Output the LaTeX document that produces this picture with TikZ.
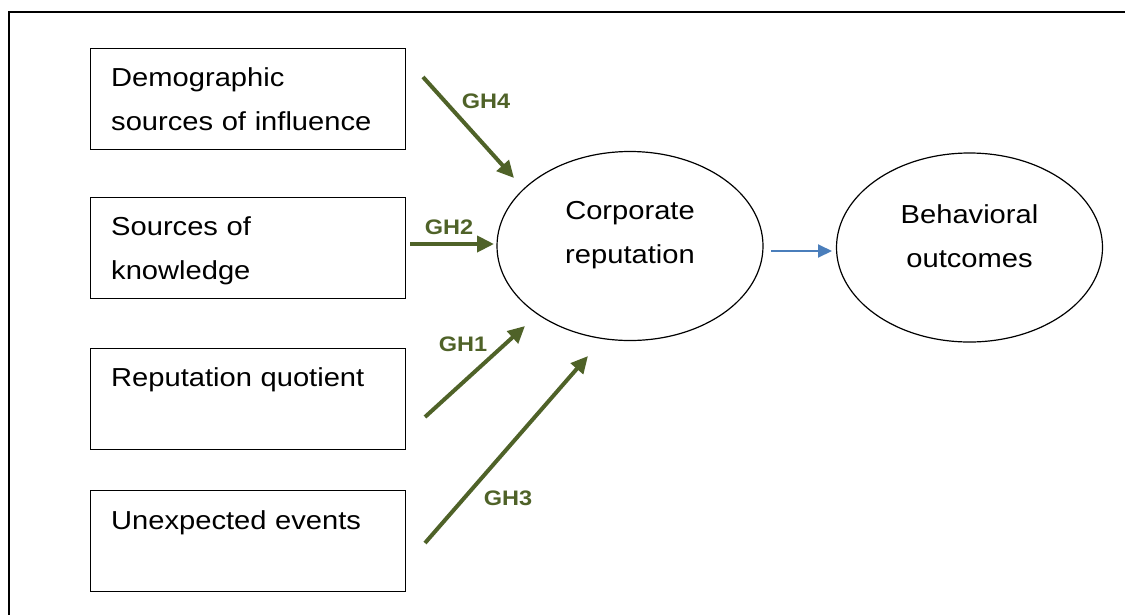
\documentclass[tikz,border=0pt]{standalone}
\usepackage{fontspec}
\setmainfont{Liberation Sans}[FakeStretch=1.12]
\usetikzlibrary{arrows.meta,shapes.geometric}
\definecolor{ghgreen}{HTML}{4F6228}
\definecolor{linkblue}{HTML}{4A7EBB}
\begin{document}
\begin{tikzpicture}[x=1pt,y=-1pt,
  factorbox/.style={draw=black, line width=1.4pt, minimum width=315pt, minimum height=101pt, anchor=north west, inner sep=0pt},
  construct/.style={draw=black, line width=1.2pt, ellipse, minimum width=266pt, minimum height=189pt, inner sep=0pt},
  boxtext/.style={font=\fontsize{26}{44}\selectfont, inner sep=0pt, text width=300pt, align=left, anchor=base west},
  ovaltext/.style={font=\fontsize{26}{44}\selectfont, inner sep=0pt, text width=220pt, align=center, anchor=base},
  hypo/.style={font=\fontsize{21}{25}\selectfont\bfseries, text=ghgreen, inner sep=0pt},
  hyparrow/.style={draw=ghgreen, line width=4pt, -{Triangle[length=17pt,width=16pt]}},
  linkarrow/.style={draw=linkblue, line width=2pt, -{Triangle[length=14pt,width=13pt]}}]
\useasboundingbox (0,0) rectangle (1125,614);
\clip (0,0) rectangle (1125,614);
% outer frame, running off the right and bottom edges
\draw[line width=2pt] (8.5,12.3) rectangle (1140,640);

% antecedent boxes
\node[factorbox] (b1) at (90,48) {};
\node[factorbox] (b2) at (90,197) {};
\node[factorbox] (b3) at (90,348) {};
\node[factorbox] (b4) at (90,490) {};
\node[boxtext] (t1) at (111,86) {Demographic\\sources of influence};
\node[boxtext] (t2) at (111,235) {Sources of\\knowledge};
\node[boxtext] (t3) at (111,386) {Reputation quotient};
\node[boxtext] (t4) at (111,529) {Unexpected events};

% constructs
\node[construct] (cr) at (630,246) {};
\node[construct] (bo) at (969.5,247.5) {};
\node[ovaltext] (crt) at (630,219) {Corporate\\reputation};
\node[ovaltext] (bot) at (969.5,223) {Behavioral\\outcomes};

% arrow end points
\coordinate (s4) at (423,77);   \coordinate (e4) at (514,178);
\coordinate (s2) at (410,244);  \coordinate (e2) at (494,244);
\coordinate (s1) at (425,417);  \coordinate (e1) at (525,326);
\coordinate (s3) at (425,543);  \coordinate (e3) at (588,356);
\coordinate (sb) at (771,251);  \coordinate (eb) at (832,251);

\draw[hyparrow] (s4) -- (e4);
\draw[hyparrow] (s2) -- (e2);
\draw[hyparrow] (s1) -- (e1);
\draw[hyparrow] (s3) -- (e3);
\draw[linkarrow] (sb) -- (eb);

% hypothesis labels
\node[hypo] (gh4) at (486,101) {GH4};
\node[hypo] (gh2) at (449,227.5) {GH2};
\node[hypo] (gh1) at (463,344) {GH1};
\node[hypo] (gh3) at (508,498) {GH3};
\end{tikzpicture}
\end{document}
